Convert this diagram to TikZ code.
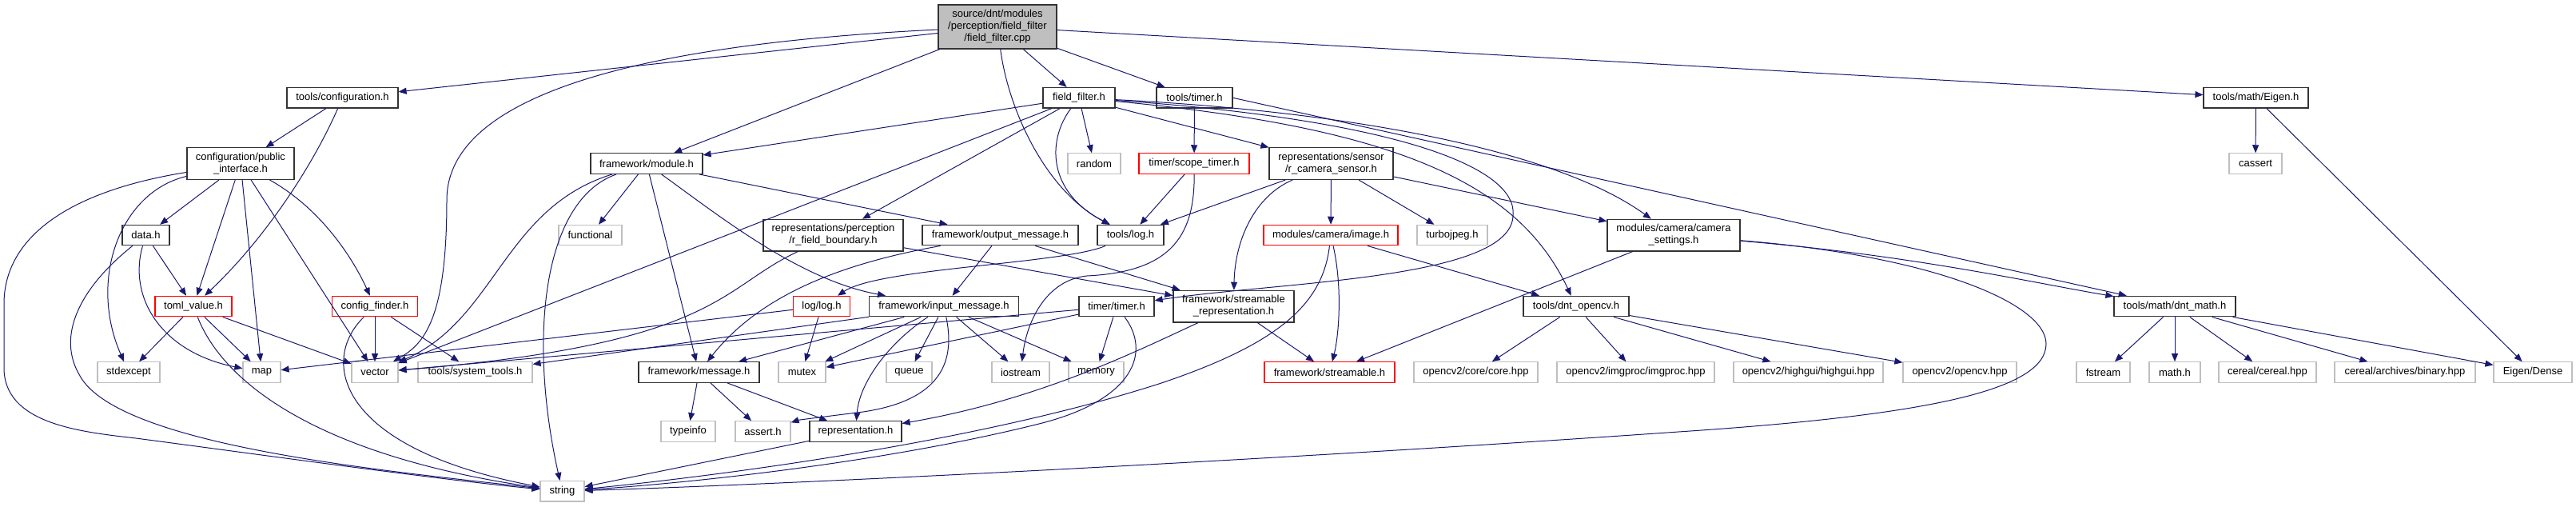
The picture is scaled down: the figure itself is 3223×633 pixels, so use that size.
\documentclass[tikz,border=0pt]{standalone}
\usepackage{fontspec}
\setmainfont{Liberation Sans}
\usetikzlibrary{arrows.meta}
\definecolor{edgecol}{RGB}{25,25,112}
\definecolor{graybd}{RGB}{191,191,191}
\definecolor{srcfill}{RGB}{191,191,191}
\tikzset{
  box/.style={draw=black!80, line width=1.2pt, fill=white, inner sep=0pt, font=\fontsize{13}{15}\selectfont, align=center, minimum height=25.5pt},
  gbox/.style={box, draw=graybd},
  rbox/.style={box, draw=red},
  tall/.style={minimum height=39.6pt},
  e/.style={draw=edgecol, line width=1pt, -{Triangle[length=10pt,width=8pt]}}
}
\begin{document}
\begin{tikzpicture}[x=1pt,y=-1pt]
\useasboundingbox (0,0) rectangle (3223,633);
% level 0
\node[box, fill=srcfill, minimum width=148pt, minimum height=55pt] (src) at (1248,33.4) {source/dnt/modules\\/perception/field\_filter\\/field\_filter.cpp};
% level 1
\node[box, minimum width=139pt] (conf) at (428.5,122.3) {tools/configuration.h};
\node[box, minimum width=90pt] (ff) at (1350,122.3) {field\_filter.h};
\node[box, minimum width=95pt] (timer) at (1494.5,122.3) {tools/timer.h};
\node[box, minimum width=131pt] (eigen) at (2822.5,122.3) {tools/math/Eigen.h};
% level 2
\node[box, tall, minimum width=134pt] (pubif) at (301,204.6) {configuration/public\\\_interface.h};
\node[box, minimum width=140pt] (module) at (809,204.6) {framework/module.h};
\node[gbox, minimum width=66pt] (random) at (1369,204.6) {random};
\node[rbox, minimum width=138pt] (scope) at (1494,204.6) {timer/scope\_timer.h};
\node[box, tall, minimum width=155pt] (camsensor) at (1665.5,204.6) {representations/sensor\\/r\_camera\_sensor.h};
\node[gbox, minimum width=66pt] (cassert) at (2822,204.6) {cassert};
% level 3
\node[box, minimum width=59pt] (data) at (182.5,294.1) {data.h};
\node[gbox, minimum width=79pt] (functional) at (738.5,294.1) {functional};
\node[box, tall, minimum width=175pt] (rfb) at (1042.5,294.1) {representations/perception\\/r\_field\_boundary.h};
\node[box, minimum width=195pt] (outmsg) at (1251.5,294.1) {framework/output\_message.h};
\node[box, minimum width=83pt] (log) at (1414.5,294.1) {tools/log.h};
\node[rbox, minimum width=168pt] (image) at (1665,294.1) {modules/camera/image.h};
\node[gbox, minimum width=88pt] (turbo) at (1817,294.1) {turbojpeg.h};
\node[box, tall, minimum width=166pt] (camset) at (2094,294.1) {modules/camera/camera\\\_settings.h};
% level 4
\node[rbox, minimum width=96pt] (toml) at (242,383.1) {toml\_value.h};
\node[rbox, minimum width=107pt] (cfind) at (469,383.1) {config\_finder.h};
\node[rbox, minimum width=71pt] (loglog) at (1028,383.1) {log/log.h};
\node[box, minimum width=187pt] (inmsg) at (1181,383.1) {framework/input\_message.h};
\node[box, minimum width=94pt] (ttimer) at (1397,383.1) {timer/timer.h};
\node[box, tall, minimum width=151pt] (streprep) at (1543.5,383.1) {framework/streamable\\\_representation.h};
\node[box, minimum width=132pt] (opencv) at (1972,383.1) {tools/dnt\_opencv.h};
\node[box, minimum width=152pt] (dntmath) at (2721,383.1) {tools/math/dnt\_math.h};
% level 5
\node[gbox, minimum width=78pt] (stdexcept) at (161,465.5) {stdexcept};
\node[gbox, minimum width=47pt] (map) at (327.5,465.5) {map};
\node[gbox, minimum width=58pt] (vector) at (469,465.5) {vector};
\node[gbox, minimum width=143pt] (systools) at (594.5,465.5) {tools/system\_tools.h};
\node[box, minimum width=151pt] (message) at (874.5,465.5) {framework/message.h};
\node[gbox, minimum width=59pt] (mutex) at (1003.5,465.5) {mutex};
\node[gbox, minimum width=57pt] (queue) at (1137.5,465.5) {queue};
\node[gbox, minimum width=72pt] (iostream) at (1277,465.5) {iostream};
\node[gbox, minimum width=69pt] (memory) at (1371.5,465.5) {memory};
\node[rbox, minimum width=163pt] (streamable) at (1663.5,465.5) {framework/streamable.h};
\node[gbox, minimum width=155pt] (core) at (1846.5,465.5) {opencv2/core/core.hpp};
\node[gbox, minimum width=197pt] (imgproc) at (2046.5,465.5) {opencv2/imgproc/imgproc.hpp};
\node[gbox, minimum width=187pt] (highgui) at (2262.5,465.5) {opencv2/highgui/highgui.hpp};
\node[gbox, minimum width=142pt] (opencvhpp) at (2452,465.5) {opencv2/opencv.hpp};
\node[gbox, minimum width=67pt] (fstream) at (2631.5,465.5) {fstream};
\node[gbox, minimum width=64pt] (mathh) at (2721,465.5) {math.h};
\node[gbox, minimum width=122pt] (cereal) at (2837,465.5) {cereal/cereal.hpp};
\node[gbox, minimum width=176pt] (binary) at (3009,465.5) {cereal/archives/binary.hpp};
\node[gbox, minimum width=98pt] (dense) at (3169,465.5) {Eigen/Dense};
% level 6
\node[gbox, minimum width=68pt] (typeinfo) at (861,539.5) {typeinfo};
\node[gbox, minimum width=69pt] (asserth) at (954.5,539.5) {assert.h};
\node[box, minimum width=115pt] (repr) at (1070.5,539.5) {representation.h};
% level 7
\node[gbox, minimum width=55pt] (string) at (703.5,614.3) {string};

% ---- edges from src
\draw[e] (src) -- (conf);
\draw[e] (src) -- (module);
\draw[e] (src) .. controls (700,60) and (559,150) .. (559,250) .. controls (559,400) and (530,430) .. (vector);
\draw[e] (src) -- (ff);
\draw[e] (src) -- (timer);
\draw[e] (src) .. controls (1262,140) and (1310,240) .. (log);
\draw[e] (src) -- (eigen);
% conf
\draw[e] (conf) -- (pubif);
\draw[e] (conf) .. controls (390,210) and (330,300) .. (toml);
% pubif
\draw[e] (pubif) .. controls (150,240) and (110,350) .. (stdexcept);
\draw[e] (pubif) .. controls (80,240) and (5,300) .. (5,380) -- (5,460) .. controls (5,530) and (100,540) .. (170,548) .. controls (300,565) and (550,600) .. (string);
\draw[e] (pubif) -- (data);
\draw[e] (pubif) -- (toml);
\draw[e] (pubif) -- (map);
\draw[e] (pubif) -- (vector);
\draw[e] (pubif) .. controls (400,260) and (440,320) .. (cfind);
% data
\draw[e] (data) -- (toml);
\draw[e] (data) .. controls (160,370) and (200,440) .. (map);
\draw[e] (data) .. controls (100,360) and (70,420) .. (100,470) .. controls (150,560) and (500,590) .. (string);
% toml
\draw[e] (toml) -- (stdexcept);
\draw[e] (toml) -- (map);
\draw[e] (toml) -- (vector);
\draw[e] (toml) .. controls (280,480) and (400,570) .. (string);
% cfind
\draw[e] (cfind) -- (vector);
\draw[e] (cfind) -- (systools);
\draw[e] (cfind) .. controls (400,450) and (420,560) .. (string);
% ff
\draw[e] (ff) -- (module);
\draw[e] (ff) -- (vector);
\draw[e] (ff) -- (rfb);
\draw[e] (ff) .. controls (1310,175) and (1310,240) .. (log);
\draw[e] (ff) -- (random);
\draw[e] (ff) -- (camsensor);
\draw[e] (ff) .. controls (1700,140) and (1950,190) .. (camset);
\draw[e] (ff) .. controls (1750,160) and (1900,230) .. (opencv);
\draw[e] (ff) .. controls (1750,150) and (1900,210) .. (1893,270) .. controls (1890,350) and (1600,352) .. (ttimer);
% timer
\draw[e] (timer) -- (scope);
\draw[e] (timer.east) -- (dntmath);
% eigen
\draw[e] (eigen) -- (cassert);
\draw[e] (eigen) -- (dense);
% module
\draw[e] (module) -- (functional);
\draw[e] (module) -- (message);
\draw[e] (module) .. controls (630,260) and (620,400) .. (vector);
\draw[e] (module) .. controls (680,250) and (660,420) .. (string);
\draw[e] (module) .. controls (900,270) and (1000,350) .. (inmsg);
\draw[e] (module) -- (outmsg);
% scope
\draw[e] (scope) -- (log);
\draw[e] (scope) .. controls (1495,300) and (1460,340) .. (1360,345) .. controls (1310,350) and (1285,400) .. (iostream);
% camsensor
\draw[e] (camsensor) -- (log);
\draw[e] (camsensor) .. controls (1570,245) and (1545,300) .. (streprep);
\draw[e] (camsensor) -- (image);
\draw[e] (camsensor) -- (turbo);
\draw[e] (camsensor) -- (camset);
% rfb
\draw[e] (rfb) .. controls (900,360) and (900,430) .. (vector);
\draw[e] (rfb) -- (streprep);
% outmsg
\draw[e] (outmsg) -- (inmsg);
\draw[e] (outmsg) -- (streprep);
\draw[e] (outmsg) .. controls (1050,330) and (950,370) .. (message);
% log
\draw[e] (log) .. controls (1330,330) and (1100,335) .. (loglog);
% image
\draw[e] (image) -- (opencv);
\draw[e] (image) .. controls (1680,360) and (1675,420) .. (streamable);
\draw[e] (image) .. controls (1655,380) and (1600,430) .. (1450,480) .. controls (1200,560) and (850,600) .. (string);
% camset
\draw[e] (camset) -- (streamable);
\draw[e] (camset) .. controls (2400,320) and (2550,355) .. (dntmath);
\draw[e] (camset) .. controls (2420,320) and (2560,380) .. (2560,430) .. controls (2560,490) and (2400,520) .. (2100,540) .. controls (1600,575) and (1000,605) .. (string);
% loglog
\draw[e] (loglog) -- (map);
\draw[e] (loglog) -- (mutex);
% inmsg
\draw[e] (inmsg) -- (systools);
\draw[e] (inmsg) -- (message);
\draw[e] (inmsg) -- (mutex);
\draw[e] (inmsg) -- (queue);
\draw[e] (inmsg) -- (iostream);
\draw[e] (inmsg) -- (memory);
\draw[e] (inmsg) .. controls (1110,430) and (1075,480) .. (repr);
\draw[e] (inmsg) .. controls (1195,450) and (1180,500) .. (1080,515) .. controls (1040,520) and (1000,525) .. (asserth);
% ttimer
\draw[e] (ttimer) -- (vector);
\draw[e] (ttimer) -- (mutex);
\draw[e] (ttimer) -- (memory);
\draw[e] (ttimer) .. controls (1440,440) and (1420,500) .. (1300,530) .. controls (1100,580) and (850,605) .. (string);
% streprep
\draw[e] (streprep) .. controls (1420,440) and (1300,500) .. (repr);
\draw[e] (streprep) -- (streamable);
% opencv
\draw[e] (opencv) -- (core);
\draw[e] (opencv) -- (imgproc);
\draw[e] (opencv) -- (highgui);
\draw[e] (opencv) -- (opencvhpp);
% dntmath
\draw[e] (dntmath) -- (fstream);
\draw[e] (dntmath) -- (mathh);
\draw[e] (dntmath) -- (cereal);
\draw[e] (dntmath) -- (binary);
\draw[e] (dntmath) -- (dense);
% message
\draw[e] (message) -- (typeinfo);
\draw[e] (message) -- (asserth);
\draw[e] (message) -- (repr);
% repr
\draw[e] (repr) -- (string);
\end{tikzpicture}
\end{document}
